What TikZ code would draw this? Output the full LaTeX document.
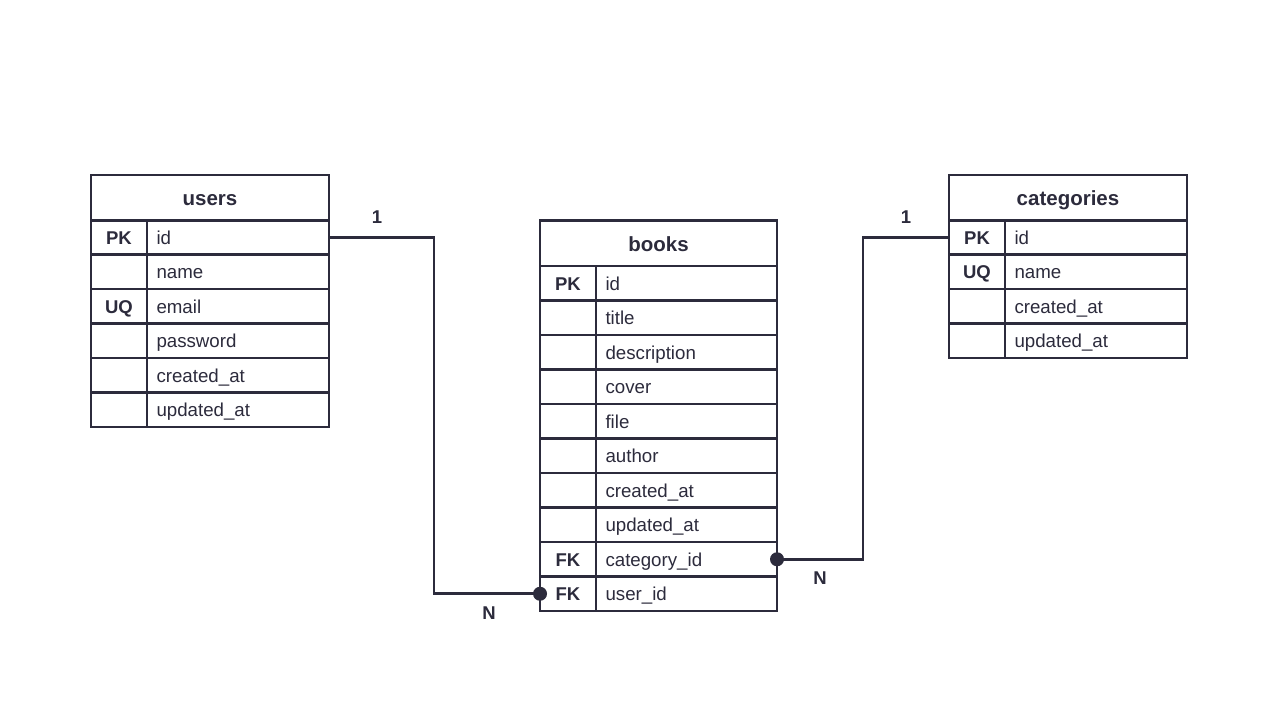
\documentclass[tikz,border=0pt]{standalone}
\usepackage{fontspec}
\setmainfont{Liberation Sans}
\definecolor{ink}{HTML}{2C2B3C}
\tikzset{
  x=1pt, y=-1pt,
  cellbase/.style={draw=ink, line width=2.6pt, inner sep=0pt, outer sep=0pt, anchor=north west, text=ink, minimum height=34.5pt, text height=15.25pt, text depth=1.75pt},
  titlecell/.style={cellbase, minimum height=45.5pt, font=\bfseries\fontsize{20.5}{22}\selectfont, text height=17pt, text depth=1pt},
  keycell/.style={cellbase, minimum width=56pt, font=\bfseries\fontsize{18.5}{20}\selectfont},
  valcell/.style={cellbase, inner xsep=9.5pt, text width=#1, align=left, font=\fontsize{18.7}{20}\selectfont},
  valcell/.default=163pt,
  outerframe/.style={draw=ink, line width=2.9pt},
  conn/.style={draw=ink, line width=2.6pt},
  enddot/.style={fill=ink},
  cardlabel/.style={text=ink, font=\bfseries\fontsize{18.5}{20}\selectfont},
}
\begin{document}
\begin{tikzpicture}
\useasboundingbox (0,0) rectangle (1280,720);

% users
\node[titlecell, minimum width=238pt] (users) at (91,175) {users};
\foreach \k/\v/\n [count=\i from 0] in {PK/id/id, /name/name, UQ/email/email, /password/password, /created\_at/createdat, /updated\_at/updatedat} {
  \node[keycell] (users-\n-k) at (91,{220+34.5*\i}) {\k};
  \node[valcell] (users-\n) at (147,{220+34.5*\i}) {\v};
}
\draw[outerframe] (users.north west) rectangle (users-updatedat.south east);

% books
\node[titlecell, minimum width=237pt] (books) at (540,220.5) {books};
\foreach \k/\v/\n [count=\i from 0] in {PK/id/id, /title/title, /description/description, /cover/cover, /file/file, /author/author, /created\_at/createdat, /updated\_at/updatedat, FK/category\_id/categoryid, FK/user\_id/userid} {
  \node[keycell] (books-\n-k) at (540,{266+34.5*\i}) {\k};
  \node[valcell=162pt] (books-\n) at (596,{266+34.5*\i}) {\v};
}
\draw[outerframe] (books.north west) rectangle (books-userid.south east);

% categories
\node[titlecell, minimum width=238pt] (categories) at (949,175) {categories};
\foreach \k/\v/\n [count=\i from 0] in {PK/id/id, UQ/name/name, /created\_at/createdat, /updated\_at/updatedat} {
  \node[keycell] (categories-\n-k) at (949,{220+34.5*\i}) {\k};
  \node[valcell] (categories-\n) at (1005,{220+34.5*\i}) {\v};
}
\draw[outerframe] (categories.north west) rectangle (categories-updatedat.south east);

% connectors
\coordinate (bendA) at (434,0);
\coordinate (bendB) at (863,0);
\draw[conn] (users-id.east) -- (users-id.east -| bendA) |- (books-userid-k.west);
\fill[enddot] (books-userid-k.west) circle (7pt);
\draw[conn] (categories-id-k.west) -- (categories-id-k.west -| bendB) |- (books-categoryid.east);
\fill[enddot] (books-categoryid.east) circle (7pt);

% cardinalities
\node[cardlabel] (c1) at (377,217) {1};
\node[cardlabel] (c2) at (489,613) {N};
\node[cardlabel] (c3) at (906,217) {1};
\node[cardlabel] (c4) at (820,578) {N};
\end{tikzpicture}
\end{document}
